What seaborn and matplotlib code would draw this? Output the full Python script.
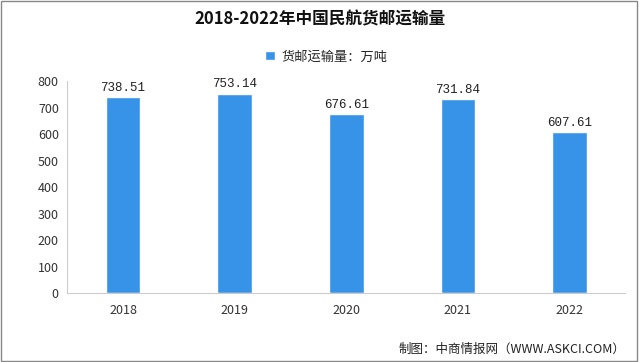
import matplotlib
matplotlib.use("Agg")
import matplotlib.pyplot as plt
import seaborn as sns
import pandas as pd
from matplotlib.patches import Rectangle

years = ["2018", "2019", "2020", "2021", "2022"]
volume = [738.51, 753.14, 676.61, 731.84, 607.61]
series_name = "货邮运输量：万吨"
title = "2018-2022年中国民航货邮运输量"
source = "制图：中商情报网（WWW.ASKCI.COM）"

sns.set_theme(style="white")
plt.rcParams['font.family'] = ['Noto Sans CJK SC', 'DejaVu Sans']

df = pd.DataFrame({"year": years, "volume": volume})

fig = plt.figure(figsize=(6.4, 3.62), dpi=100)
ax = fig.add_axes([0.105, 0.19, 0.872, 0.586])

bar_color = "#3793e8"
sns.barplot(data=df, x="year", y="volume", color=bar_color, width=0.31,
            saturation=1, label=series_name, ax=ax)

for i, v in enumerate(volume):
    ax.text(i, v + 12, f"{v:.2f}", ha="center", va="bottom", fontsize=9,
            family=['Liberation Mono', 'DejaVu Sans'], color="#222222")

ax.set_ylim(0, 800)
ax.set_xlim(-0.5, 4.5)
ax.set_yticks(range(0, 801, 100))
ax.set_xlabel("")
ax.set_ylabel("")
ax.tick_params(axis="y", labelsize=9, colors="#333333", length=4, width=0.8,
               color="#cccccc", pad=2)
ax.tick_params(axis="x", labelsize=9, colors="#333333", length=0, pad=8)
ax.set_xticks([i - 0.5 for i in range(1, 6)], minor=True)
ax.tick_params(axis="x", which="minor", length=5, width=0.8, color="#cccccc")

for s in ["top", "right"]:
    ax.spines[s].set_visible(False)
for s in ["left", "bottom"]:
    ax.spines[s].set_color("#cccccc")
    ax.spines[s].set_linewidth(0.8)

leg = ax.legend(loc="center", bbox_to_anchor=(0.51, 0.843),
                bbox_transform=fig.transFigure, frameon=False, fontsize=9.5,
                handlelength=0.7, handleheight=0.7, handletextpad=0.5)

fig.text(0.5, 0.945, title, ha="center", va="center", fontsize=12,
         fontweight="bold", color="#111111")
fig.text(0.977, 0.035, source, ha="right", va="center", fontsize=9,
         color="#222222")

fig.patches.append(Rectangle((0.002, 0.003), 0.994, 0.994, transform=fig.transFigure,
                             fill=False, edgecolor="#888888", linewidth=1))

fig.savefig("out.png", dpi=100)
